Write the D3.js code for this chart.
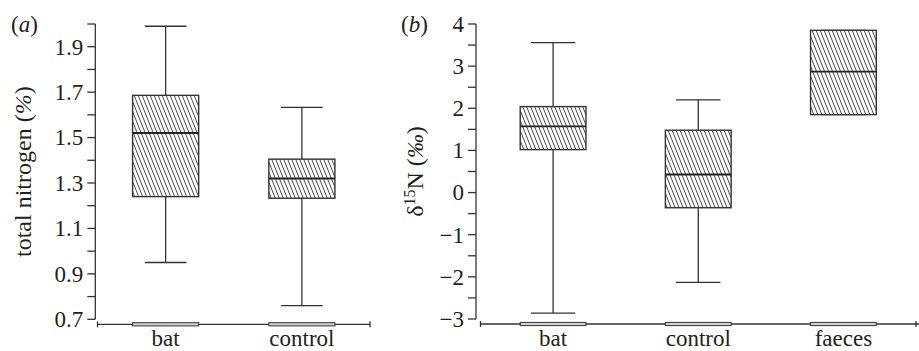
<!DOCTYPE html>
<html>
<head>
<meta charset="utf-8">
<script src="https://cdn.jsdelivr.net/npm/d3@7"></script>
<style>
  body { margin: 0; background: #fff; }
  svg { display: block; }
  text { font-family: "Liberation Serif", "Times New Roman", serif; fill: #231f20; }
</style>
</head>
<body>
<div id="chart"></div>
<script>
// panel (a): total nitrogen (%)
const groupsA = ['bat', 'control'];
const lowA    = [0.95, 0.76];
const q1A     = [1.24, 1.233];
const medA    = [1.52, 1.32];
const q3A     = [1.686, 1.405];
const highA   = [1.99, 1.633];
const ticksA  = [0.7, 0.9, 1.1, 1.3, 1.5, 1.7, 1.9];
const minorA  = [0.8, 1.0, 1.2, 1.4, 1.6, 1.8, 2.0];

// panel (b): delta 15N (per mil)
const groupsB = ['bat', 'control', 'faeces'];
const lowB    = [-2.86, -2.13, 1.85];
const q1B     = [1.02, -0.36, 1.85];
const medB    = [1.57, 0.43, 2.87];
const q3B     = [2.04, 1.48, 3.85];
const highB   = [3.56, 2.20, 3.85];
const ticksB  = [-3, -2, -1, 0, 1, 2, 3, 4];
const minorB  = [-2.5, -1.5, -0.5, 0.5, 1.5, 2.5, 3.5];

const W = 919, H = 351;
const ink = '#333';
const fs = 23;

const svg = d3.select('#chart').append('svg')
  .attr('width', W).attr('height', H);

// hatch fill
const defs = svg.append('defs');
const pat = defs.append('pattern')
  .attr('id', 'hatch')
  .attr('patternUnits', 'userSpaceOnUse')
  .attr('width', 4).attr('height', 10);
pat.append('rect').attr('width', 4).attr('height', 10).attr('fill', '#fff');
[-4, 0, 4].forEach(function (dx) {
  pat.append('line')
    .attr('x1', dx).attr('y1', 0)
    .attr('x2', dx + 4).attr('y2', 10)
    .attr('stroke', '#333').attr('stroke-width', 0.9);
});

function panel(opt) {
  const g = svg.append('g');
  const y = d3.scaleLinear().domain(opt.domain).range([opt.yBottom, 24]);
  const x = d3.scaleBand().domain(opt.groups).range([opt.xStart, opt.xEnd]).padding(0);
  const step = x.step();
  const bw = step * opt.boxFrac;
  const cw = step * 0.306;

  // y axis line + ticks
  g.append('line')
    .attr('x1', opt.yAxisX).attr('x2', opt.yAxisX)
    .attr('y1', y(opt.domain[0])).attr('y2', y(opt.domain[1]))
    .attr('stroke', ink).attr('stroke-width', 1.3);
  g.selectAll('.tk').data(opt.ticks.concat(opt.minor)).enter().append('line')
    .attr('x1', opt.yAxisX - 8).attr('x2', opt.yAxisX)
    .attr('y1', d => y(d)).attr('y2', d => y(d))
    .attr('stroke', ink).attr('stroke-width', 1.3);
  g.selectAll('.tl').data(opt.ticks).enter().append('text')
    .attr('x', opt.yAxisX - 12)
    .attr('y', d => y(d))
    .attr('dy', '0.34em')
    .attr('text-anchor', 'end')
    .style('font-size', fs + 'px')
    .text(d => opt.fmt(d));

  // x axis line (offset below)
  const xa = opt.yBottom + 5;
  g.append('line')
    .attr('x1', opt.xStart).attr('x2', opt.xEnd + opt.overhang)
    .attr('y1', xa).attr('y2', xa)
    .attr('stroke', ink).attr('stroke-width', 1.3);
  [opt.xStart, opt.xEnd].forEach(function (px) {
    g.append('line')
      .attr('x1', px).attr('x2', px)
      .attr('y1', xa - 3).attr('y2', xa + 3)
      .attr('stroke', ink).attr('stroke-width', 1.3);
  });
  g.selectAll('.xl').data(opt.groups).enter().append('text')
    .attr('x', d => x(d) + step / 2)
    .attr('y', 346)
    .attr('text-anchor', 'middle')
    .style('font-size', fs + 'px')
    .text(d => d);

  // boxes
  const box = g.selectAll('.box').data(opt.groups).enter().append('g');
  box.append('rect')
    .attr('x', d => x(d) + step / 2 - bw / 2)
    .attr('y', xa - 1.6).attr('width', bw).attr('height', 3.2)
    .attr('fill', '#d0d0d0').attr('stroke', ink).attr('stroke-width', 1);
  box.append('line')
    .attr('x1', d => x(d) + step / 2).attr('x2', d => x(d) + step / 2)
    .attr('y1', (d, i) => y(opt.high[i])).attr('y2', (d, i) => y(opt.low[i]))
    .attr('stroke', ink).attr('stroke-width', 1.3);
  ['high', 'low'].forEach(function (k) {
    box.append('line')
      .attr('x1', d => x(d) + step / 2 - cw / 2).attr('x2', d => x(d) + step / 2 + cw / 2)
      .attr('y1', (d, i) => y(opt[k][i])).attr('y2', (d, i) => y(opt[k][i]))
      .attr('stroke', ink).attr('stroke-width', 1.3);
  });
  box.append('rect')
    .attr('x', d => x(d) + step / 2 - bw / 2)
    .attr('y', (d, i) => y(opt.q3[i]))
    .attr('width', bw)
    .attr('height', (d, i) => y(opt.q1[i]) - y(opt.q3[i]))
    .attr('fill', 'url(#hatch)').attr('stroke', ink).attr('stroke-width', 1.4);
  box.append('line')
    .attr('x1', d => x(d) + step / 2 - bw / 2).attr('x2', d => x(d) + step / 2 + bw / 2)
    .attr('y1', (d, i) => y(opt.med[i])).attr('y2', (d, i) => y(opt.med[i]))
    .attr('stroke', '#222').attr('stroke-width', 1.9);

  // panel letter
  g.append('text')
    .attr('x', opt.letterX).attr('y', 32)
    .style('font-size', fs + 'px')
    .html('(<tspan font-style="italic">' + opt.letter + '</tspan>)');

  // y label
  g.append('text')
    .attr('transform', 'translate(' + opt.labelX + ',' + ((24 + opt.yBottom) / 2) + ') rotate(-90)')
    .attr('text-anchor', 'middle')
    .style('font-size', '24px')
    .html(opt.label);
}

panel({
  groups: groupsA, low: lowA, q1: q1A, med: medA, q3: q3A, high: highA,
  ticks: ticksA, minor: minorA, domain: [0.7, 2.0], yBottom: 319.3,
  yAxisX: 95.3, xStart: 97.5, xEnd: 370, overhang: 0, boxFrac: 0.485,
  fmt: d3.format('.1f'), letter: 'a', letterX: 11, labelX: 31,
  label: 'total nitrogen (<tspan font-style="italic">%</tspan>)'
});

panel({
  groups: groupsB, low: lowB, q1: q1B, med: medB, q3: q3B, high: highB,
  ticks: ticksB, minor: minorB, domain: [-3, 4], yBottom: 319,
  yAxisX: 476, xStart: 480.5, xEnd: 916, overhang: 10, boxFrac: 0.453,
  fmt: d => d < 0 ? '\u2212' + Math.abs(d) : String(d), letter: 'b', letterX: 401, labelX: 423,
  label: '\u03b4<tspan dy="-8" font-size="16">15</tspan><tspan dy="8">N (</tspan><tspan font-style="italic">\u2030</tspan>)'
});
</script>
</body>
</html>
